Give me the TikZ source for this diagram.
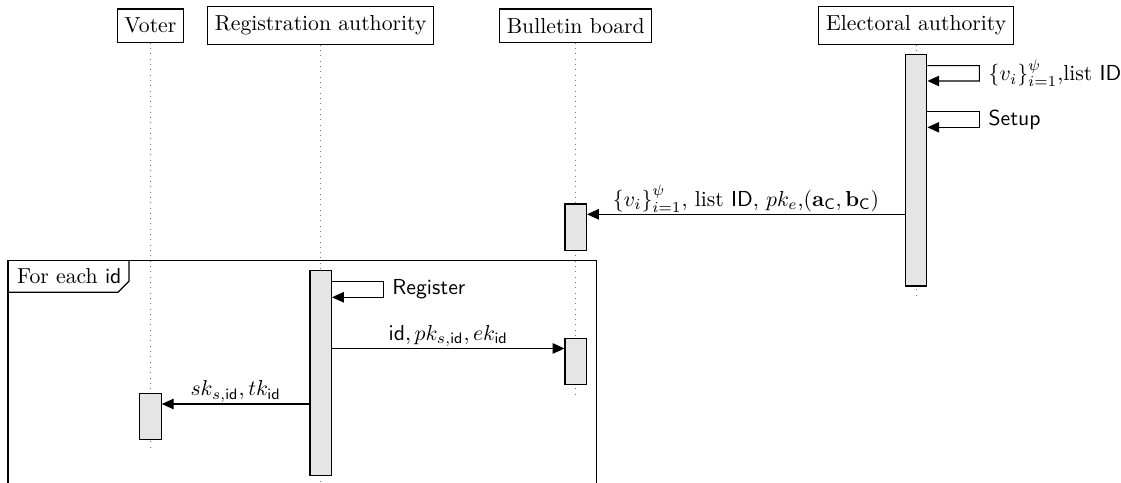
\documentclass[tikz,border=0pt]{standalone}
\usetikzlibrary{arrows.meta,fit,calc}
\begin{document}
\begin{tikzpicture}[x=0.4608pt,y=-0.4608pt, line width=0.5pt,
  obj/.style={draw, inner xsep=3.33pt, inner ysep=4.1pt},
  life/.style={black!55, dotted, line width=0.45pt},
  act/.style={draw, fill=black!10, inner sep=0pt},
  msg/.style={-{Triangle[length=5.4pt,width=4.8pt]}},
  lbl/.style={anchor=base, yshift=3.7pt, inner sep=0pt},
  sidelbl/.style={anchor=west, inner sep=4pt},
  framebox/.style={line width=0.6pt}]
\useasboundingbox (0,0) rectangle (1121,483);
\clip (0,0) rectangle (1121,483);

% objects
\node[obj] (voter) at (150.4,25.6) {Voter};
\node[obj] (ra) at (320.7,25.6) {Registration authority};
\node[obj] (bb) at (575.8,25.6) {Bulletin board};
\node[obj] (ea) at (916.2,25.6) {Electoral authority};

% lifelines
\coordinate (voterend) at (150.4,452);
\coordinate (raend) at (320.7,495);
\coordinate (bbend) at (575.8,396);
\coordinate (eaend) at (916.2,298);
\draw[life] (voter.south) -- (voterend);
\draw[life] (ra.south) -- (raend);
\draw[life] (bb.south) -- (bbend);
\draw[life] (ea.south) -- (eaend);

% frame
\draw[framebox] (8,260.3) rectangle (596.7,500);
\draw[framebox] (8,292.3) -- (118,292.3) -- (129,281.3) -- (129,260.3);
\node[anchor=base west, inner sep=0pt] (frl) at (16.7,283.3) {For each \textsf{id}};

% activations
\node[act, fit={(905.5,54.3)(926.9,286)}] (eaA) {};
\node[act, fit={(565,204)(586.5,250.3)}] (bb1) {};
\node[act, fit={(310,270.7)(331.5,475.7)}] (raA) {};
\node[act, fit={(565,338.3)(586.5,384.3)}] (bb2) {};
\node[act, fit={(139.3,393.3)(161.3,439.7)}] (voterA) {};

% message heights
\coordinate (s1) at (0,65.7);
\coordinate (s2) at (0,111.7);
\coordinate (m1) at (0,214.3);
\coordinate (s3) at (0,281.7);
\coordinate (m2) at (0,348.5);
\coordinate (m3) at (0,404);

% self messages
\draw[msg] (eaA.east |- s1) -- ++(52,0) -- node[sidelbl] (l1) {$\{v_i\}_{i=1}^{\psi}$,list \textsf{ID}} ++(0,15.3) -- (eaA.east |- 0,81);
\draw[msg] (eaA.east |- s2) -- ++(52,0) -- node[sidelbl] (l2) {\textsf{Setup}} ++(0,15.6) -- (eaA.east |- 0,127.3);
\draw[msg] (raA.east |- s3) -- ++(51.2,0) -- node[sidelbl] (l4) {\textsf{Register}} ++(0,15.6) -- (raA.east |- 0,297.3);

% calls
\draw[msg] (eaA.west |- m1) -- node[lbl] (l3) {$\{v_i\}_{i=1}^{\psi}$, list \textsf{ID}, $pk_e$,$(\mathbf{a}_{\mathsf{C}},\mathbf{b}_{\mathsf{C}})$} (bb1.east |- m1);
\draw[msg] (raA.east |- m2) -- node[lbl] (l5) {$\mathsf{id}, pk_{s,\mathsf{id}}, ek_{\mathsf{id}}$} (bb2.west |- m2);
\draw[msg] (raA.west |- m3) -- node[lbl] (l6) {$sk_{s,\mathsf{id}}, tk_{\mathsf{id}}$} (voterA.east |- m3);
\end{tikzpicture}
\end{document}
